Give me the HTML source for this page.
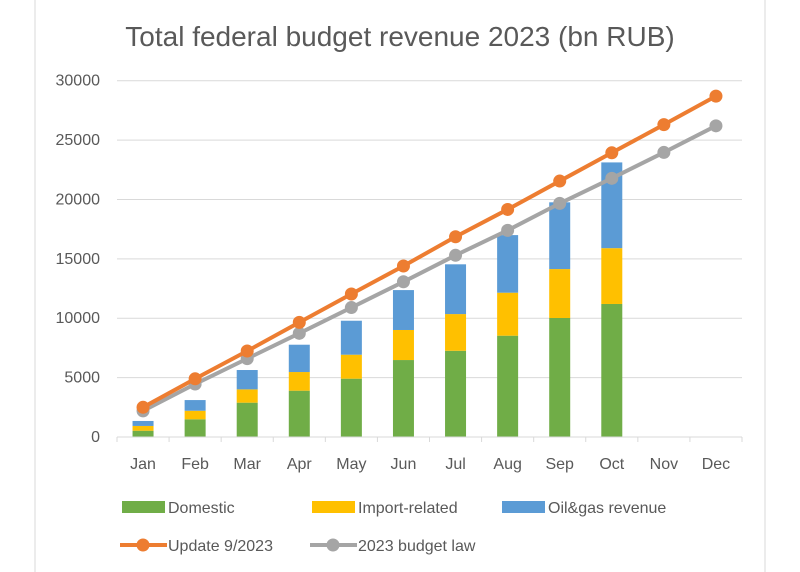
<!DOCTYPE html>
<html><head><meta charset="utf-8"><style>
html,body{margin:0;padding:0;background:#fff;}
svg{display:block;font-family:"Liberation Sans",sans-serif;}
</style></head><body>
<svg id="chart" width="800" height="572" viewBox="0 0 800 572">
<line x1="35" y1="0" x2="35" y2="572" stroke="#d9d9d9"/>
<line x1="765" y1="0" x2="765" y2="572" stroke="#d9d9d9"/>
<text x="400" y="46" text-anchor="middle" font-size="28" fill="#595959">Total federal budget revenue 2023 (bn RUB)</text>
<g id="grid"></g><g id="bars"></g><g id="lines"></g><g id="axes"></g>
<g>
<rect x="122" y="501" width="43" height="12" fill="#70ad47"/>
<text x="168" y="513" font-size="16" fill="#595959">Domestic</text>
<rect x="312" y="501" width="43" height="12" fill="#ffc000"/>
<text x="358" y="513" font-size="16" fill="#595959">Import-related</text>
<rect x="502" y="501" width="43" height="12" fill="#5b9bd5"/>
<text x="548" y="513" font-size="16" fill="#595959">Oil&amp;gas revenue</text>
<line x1="120" y1="545" x2="167" y2="545" stroke="#ed7d31" stroke-width="4"/>
<circle cx="143" cy="545" r="6.5" fill="#ed7d31"/>
<text x="168" y="551" font-size="16" fill="#595959">Update 9/2023</text>
<line x1="310" y1="545" x2="357" y2="545" stroke="#a5a5a5" stroke-width="4"/>
<circle cx="333" cy="545" r="6.5" fill="#a5a5a5"/>
<text x="358" y="551" font-size="16" fill="#595959">2023 budget law</text>
</g>
</svg>
<script>
const months = ["Jan","Feb","Mar","Apr","May","Jun","Jul","Aug","Sep","Oct","Nov","Dec"];
const domestic = [530,1490,2890,3900,4910,6480,7260,8530,10020,11200];
const importRelated = [400,720,1120,1570,2020,2530,3090,3620,4120,4700];
const oilGas = [420,900,1630,2300,2860,3360,4190,4850,5620,7220];
const update92023 = [2500,4900,7240,9650,12040,14400,16860,19160,21550,23930,26300,28700];
const budgetLaw = [2200,4460,6600,8730,10900,13070,15300,17400,19670,21780,23960,26200];
const yTicks = [0,5000,10000,15000,20000,25000,30000];

const NS = "http://www.w3.org/2000/svg";
const X0 = 117, X1 = 742, Y0 = 437, Y1 = 80.7, YMAX = 30000;
const band = (X1 - X0) / months.length;
const xc = i => X0 + band * (i + 0.5);
const y = v => Y0 - (v / YMAX) * (Y0 - Y1);
function mk(tag, attrs, parent) {
  const el = document.createElementNS(NS, tag);
  for (const k in attrs) el.setAttribute(k, attrs[k]);
  parent.appendChild(el);
  return el;
}
const grid = document.getElementById("grid"), axes = document.getElementById("axes");
const bars = document.getElementById("bars"), lines = document.getElementById("lines");
yTicks.forEach(t => {
  if (t > 0) {
    const g = mk("line", {x1: X0, x2: X1, y1: y(t), y2: y(t), stroke: "#d9d9d9", "stroke-width": 1}, grid);
    
    
  }
  const tx = mk("text", {x: 100, y: y(t) + 5, "text-anchor": "end", "font-size": 16, fill: "#595959"}, axes);
  tx.textContent = t;
  
  
});
const ax = mk("line", {x1: X0, x2: X1, y1: Y0, y2: Y0, stroke: "#d9d9d9", "stroke-width": 1}, axes);


for (let i = 0; i <= months.length; i++) {
  const tk = mk("line", {x1: X0 + band * i, x2: X0 + band * i, y1: Y0, y2: Y0 + 5, stroke: "#d9d9d9"}, axes);
  
  
}
months.forEach((m, i) => {
  const tx = mk("text", {x: xc(i), y: 469, "text-anchor": "middle", "font-size": 16, fill: "#595959"}, axes);
  tx.textContent = m;
  
  
});
const bw = 21;
const series = [[domestic, "#70ad47", "bar-domestic"], [importRelated, "#ffc000", "bar-import"], [oilGas, "#5b9bd5", "bar-oilgas"]];
domestic.forEach((_, i) => {
  let base = 0;
  series.forEach(([arr, col, name]) => {
    const v = arr[i];
    const r = mk("rect", {x: xc(i) - bw / 2, y: y(base + v), width: bw, height: y(base) - y(base + v), fill: col}, bars);
    
    
    base += v;
  });
});
[[budgetLaw, "#a5a5a5", "law"], [update92023, "#ed7d31", "update"]].forEach(([arr, col, name]) => {
  const p = mk("polyline", {points: arr.map((v, i) => xc(i) + "," + y(v)).join(" "), fill: "none", stroke: col, "stroke-width": 4, "stroke-linejoin": "round"}, lines);
  
  
  arr.forEach((v, i) => {
    const c = mk("circle", {cx: xc(i), cy: y(v), r: 6.5, fill: col}, lines);
    
    
  });
});
</script>
</body></html>
